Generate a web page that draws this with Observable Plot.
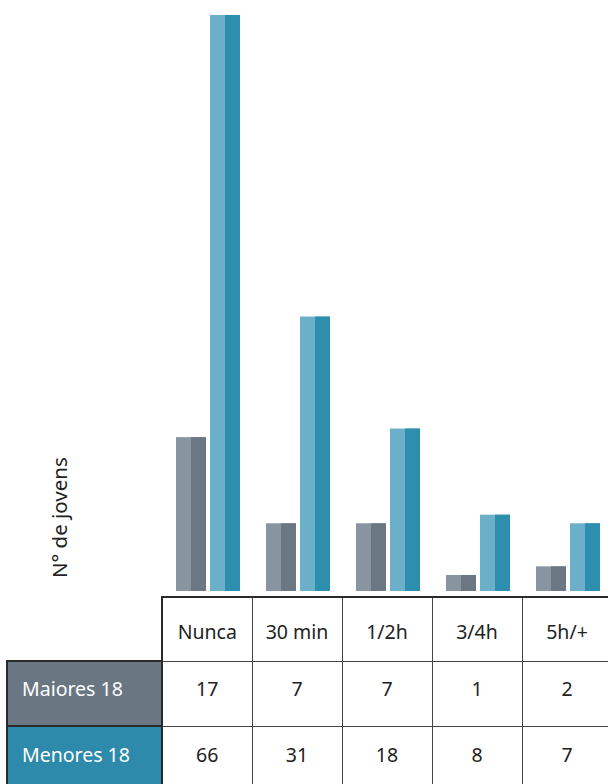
<!DOCTYPE html>
<html>
<head>
<meta charset="utf-8">
<script src="https://cdn.jsdelivr.net/npm/d3@7"></script>
<script src="https://cdn.jsdelivr.net/npm/@observablehq/plot@0.6"></script>
<style>
  html, body { margin: 0; padding: 0; background: #fff; }
  #wrap { position: relative; width: 608px; height: 784px; overflow: hidden; font-family: "Noto Sans", Lato, sans-serif; }
  #chart svg { display: block; }
  #tbl { position: absolute; left: 6px; top: 596px; width: 605px; border-collapse: collapse; table-layout: fixed; font-size: 19.5px; color: #222; }
  #tbl td, #tbl th { padding: 0; text-align: center; vertical-align: middle; font-weight: normal; }
  #tbl th.corner { border: none; }
  #tbl th.cat { border: 1px solid #444; border-top: 2.5px solid #2a2a2a; padding-top: 4px; }
  #tbl th.cat.first { border-left: 2.5px solid #2a2a2a; }
  #tbl th.row { border: 2.5px solid #2a2a2a; color: #fff; text-align: left; padding-left: 14px; }
  #tbl td { border: 1px solid #444; }
</style>
</head>
<body>
<div id="wrap">
  <div id="chart"></div>
  <table id="tbl"></table>
</div>
<script>
const categories = ["Nunca", "30 min", "1/2h", "3/4h", "5h/+"];
const groups = ["Maiores 18", "Menores 18"];
const maiores = [17, 7, 7, 1, 2];
const menores = [66, 31, 18, 8, 7];

const colors = {
  "Maiores 18": { light: "#88949f", dark: "#6b7884", head: "#6a7783" },
  "Menores 18": { light: "#6bafc8", dark: "#2e8eae", head: "#2d8aab" }
};

const majData = categories.map((c, i) => ({ cat: c, value: maiores[i] }));
const menData = categories.map((c, i) => ({ cat: c, value: menores[i] }));

const chart = Plot.plot({
  width: 608,
  height: 597,
  marginTop: 15,
  marginBottom: 13.4,
  marginLeft: 163,
  marginRight: 0,
  x: { type: "band", domain: categories, range: [163, 613], padding: 0, axis: null },
  y: { domain: [0, 66], axis: null },
  marks: [
    Plot.barY(majData, { x: "cat", y: "value", fill: colors["Maiores 18"].light, insetLeft: 13, insetRight: 47, insetBottom: -7.4 }),
    Plot.barY(majData, { x: "cat", y: "value", fill: colors["Maiores 18"].dark, insetLeft: 28, insetRight: 47, insetBottom: -7.4 }),
    Plot.barY(menData, { x: "cat", y: "value", fill: colors["Menores 18"].light, insetLeft: 47, insetRight: 13, insetBottom: -7.4 }),
    Plot.barY(menData, { x: "cat", y: "value", fill: colors["Menores 18"].dark, insetLeft: 62, insetRight: 13, insetBottom: -7.4 }),
    Plot.text(["N° de jovens"], {
      frameAnchor: "bottom-left", text: d => d, rotate: -90, textAnchor: "start",
      dx: -97, dy: -6, fontSize: 20.5, fill: "#222", fontFamily: "'Noto Sans', Lato, sans-serif"
    })
  ]
});
document.getElementById("chart").appendChild(chart);

// table
const tbl = document.getElementById("tbl");
const colgroup = document.createElement("colgroup");
[155, 90, 90, 90, 90, 90].forEach(w => {
  const col = document.createElement("col");
  col.style.width = w + "px";
  colgroup.appendChild(col);
});
tbl.appendChild(colgroup);

const head = document.createElement("tr");
head.style.height = "64px";
const corner = document.createElement("th");
corner.className = "corner";
head.appendChild(corner);
categories.forEach((c, i) => {
  const th = document.createElement("th");
  th.className = "cat" + (i === 0 ? " first" : "");
  th.textContent = c;
  head.appendChild(th);
});
tbl.appendChild(head);

[[groups[0], maiores, 65], [groups[1], menores, 62]].forEach(([g, vals, h]) => {
  const tr = document.createElement("tr");
  tr.style.height = h + "px";
  const pad = (g === groups[0] ? 11 : 6) + "px";
  const th = document.createElement("th");
  th.className = "row";
  th.style.background = colors[g].head;
  th.style.paddingBottom = pad;
  th.textContent = g;
  tr.appendChild(th);
  vals.forEach(v => {
    const td = document.createElement("td");
    td.textContent = v;
    td.style.paddingBottom = pad;
    tr.appendChild(td);
  });
  tbl.appendChild(tr);
});
</script>
</body>
</html>
